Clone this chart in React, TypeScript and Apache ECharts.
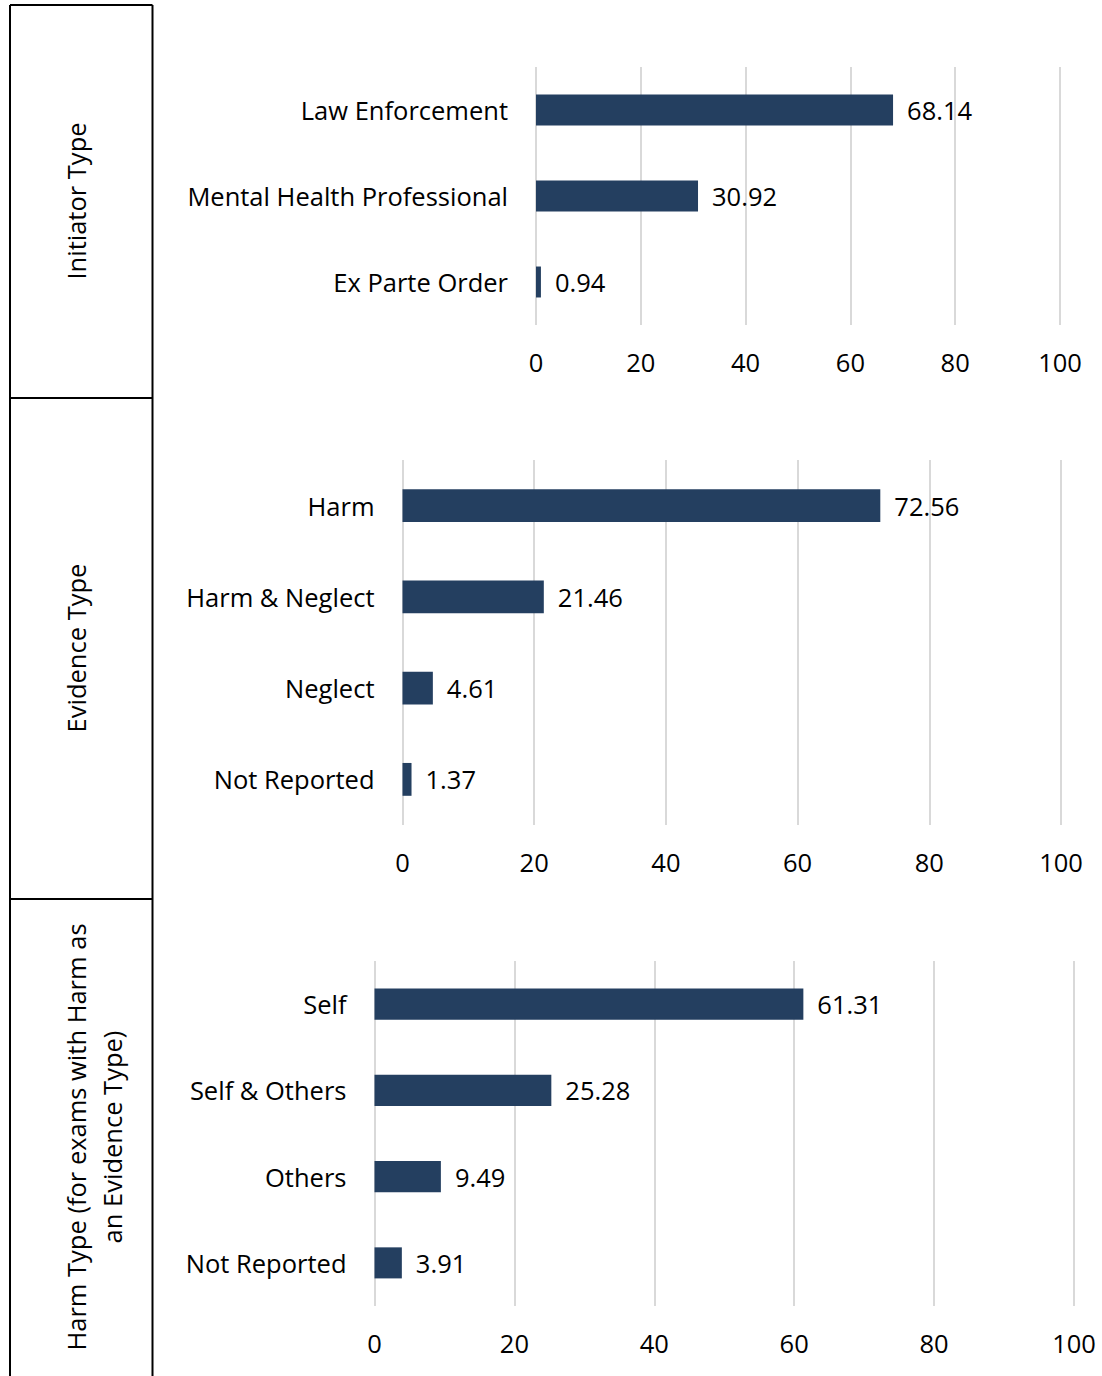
import React, { useEffect, useRef } from "react";
import * as echarts from "echarts";

const initiatorCats = ["Law Enforcement", "Mental Health Professional", "Ex Parte Order"];
const initiatorVals = [68.14, 30.92, 0.94];

const evidenceCats = ["Harm", "Harm & Neglect", "Neglect", "Not Reported"];
const evidenceVals = [72.56, 21.46, 4.61, 1.37];

const harmCats = ["Self", "Self & Others", "Others", "Not Reported"];
const harmVals = [61.31, 25.28, 9.49, 3.91];

const panelTitles = ["Initiator Type", "Evidence Type", "Harm Type (for exams with Harm as\nan Evidence Type)"];

const FONT = "Open Sans";
const FS = 25.5;
const BAR = "#243F60";

export default function App() {
  const ref = useRef<HTMLDivElement>(null);
  useEffect(() => {
    document.body.style.margin = "0";
    const chart = echarts.init(ref.current!, null, { renderer: "svg" });
    const grids = [
      { left: 536, right: 42, top: 67, height: 258 },
      { left: 402.5, right: 41, top: 460, height: 365 },
      { left: 374.5, right: 28, top: 961, height: 345 },
    ];
    const cats = [initiatorCats, evidenceCats, harmCats];
    const vals = [initiatorVals, evidenceVals, harmVals];
    const xAxis = grids.map((_, i) => ({
      type: "value",
      gridIndex: i,
      min: 0,
      max: 100,
      interval: 20,
      axisLine: { show: false },
      axisTick: { show: false },
      splitLine: { show: true, lineStyle: { color: "#d9d9d9", width: 2 } },
      axisLabel: { margin: 24, fontSize: FS, fontFamily: FONT, color: "#000" },
    }));
    const yAxis = grids.map((_, i) => ({
      type: "category",
      gridIndex: i,
      data: cats[i],
      inverse: true,
      axisLine: { show: false },
      axisTick: { show: false },
      splitLine: { show: false },
      axisLabel: { margin: 28, fontSize: FS, fontFamily: FONT, color: "#000" },
    }));
    const series = grids.map((_, i) => ({
      type: "bar",
      xAxisIndex: i,
      yAxisIndex: i,
      data: vals[i],
      barWidth: "36%",
      itemStyle: { color: BAR },
      label: {
        show: true,
        position: "right",
        distance: 14,
        fontSize: FS,
        fontFamily: FONT,
        color: "#000",
        formatter: (p: any) => Number(p.value).toFixed(2),
      },
    }));
    const lineStyle = { stroke: "#000", lineWidth: 2 };
    const graphic: any[] = [
      { type: "line", shape: { x1: 10, y1: 5, x2: 10, y2: 1376 }, style: lineStyle },
      { type: "line", shape: { x1: 152.5, y1: 5, x2: 152.5, y2: 1376 }, style: lineStyle },
      { type: "line", shape: { x1: 10, y1: 5, x2: 152.5, y2: 5 }, style: lineStyle },
      { type: "line", shape: { x1: 10, y1: 398, x2: 152.5, y2: 398 }, style: lineStyle },
      { type: "line", shape: { x1: 10, y1: 899, x2: 152.5, y2: 899 }, style: lineStyle },
    ];
    const centers = [
      [76, 201],
      [76, 648],
      [94, 1137],
    ];
    panelTitles.forEach((t, i) => {
      graphic.push({
        type: "text",
        x: centers[i][0],
        y: centers[i][1],
        rotation: Math.PI / 2,
        style: {
          text: t,
          fontSize: FS,
          fontFamily: FONT,
          fill: "#000",
          align: "center",
          verticalAlign: "middle",
          lineHeight: 36,
        },
      });
    });
    chart.setOption({
      animation: false,
      grid: grids.map((g) => ({ ...g, containLabel: false })),
      xAxis,
      yAxis,
      series,
      graphic,
    });
    return () => chart.dispose();
  }, []);
  return (
    <div
      ref={ref}
      style={{ position: "absolute", left: 0, top: 0, width: 1102, height: 1376, background: "#fff" }}
    />
  );
}
